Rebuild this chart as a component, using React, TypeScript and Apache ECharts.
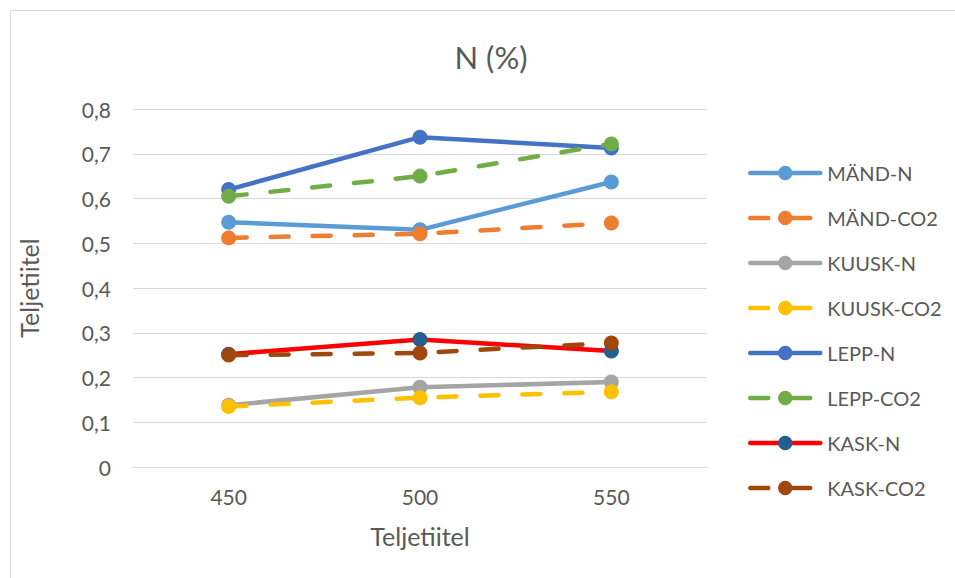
import React, { useEffect, useRef } from "react";
import * as echarts from "echarts";

const categories = ["450", "500", "550"];
const seriesNames = ["MÄND-N", "MÄND-CO2", "KUUSK-N", "KUUSK-CO2", "LEPP-N", "LEPP-CO2", "KASK-N", "KASK-CO2"];
const mandN = [0.547, 0.53, 0.637];
const mandCO2 = [0.512, 0.521, 0.545];
const kuuskN = [0.138, 0.178, 0.19];
const kuuskCO2 = [0.135, 0.155, 0.168];
const leppN = [0.62, 0.737, 0.713];
const leppCO2 = [0.605, 0.65, 0.722];
const kaskN = [0.252, 0.285, 0.259];
const kaskCO2 = [0.25, 0.255, 0.277];

const values = [mandN, mandCO2, kuuskN, kuuskCO2, leppN, leppCO2, kaskN, kaskCO2];
const lineColors = ["#5B9BD5", "#ED7D31", "#A5A5A5", "#FFC000", "#4472C4", "#70AD47", "#FF0000", "#9E480E"];
const markerColors = ["#5B9BD5", "#ED7D31", "#A5A5A5", "#FFC000", "#4472C4", "#70AD47", "#255E91", "#9E480E"];
const dashed = [false, true, false, true, false, true, false, true];

const FONT = "Lato, 'Noto Sans', sans-serif";
const TXT = "#595959";

export default function App() {
  const ref = useRef<HTMLDivElement>(null);
  useEffect(() => {
    const chart = echarts.init(ref.current!, null, { renderer: "svg" });
    chart.setOption({
      animation: false,
      backgroundColor: "#ffffff",
      title: {
        text: "N (%)",
        left: 486,
        textAlign: "center",
        top: 36,
        textStyle: { fontFamily: FONT, fontSize: 31, fontWeight: "normal", color: TXT },
      },
      graphic: [
        {
          type: "rect",
          shape: { x: 10.5, y: 10.5, width: 960, height: 600 },
          style: { fill: "none", stroke: "#d9d9d9", lineWidth: 1 },
        },
      ],
      legend: {
        orient: "vertical",
        left: 743,
        top: 158,
        itemWidth: 70,
        itemHeight: 18,
        itemGap: 25,
        lineStyle: { width: 4.5 },
        textStyle: { fontFamily: FONT, fontSize: 20, color: TXT, padding: [0, 0, 0, 2] },
        data: seriesNames,
      },
      grid: { left: 133, right: 248, top: 109, bottom: 111, containLabel: false },
      xAxis: {
        type: "category",
        data: categories,
        boundaryGap: true,
        name: "Teljetiitel",
        nameLocation: "middle",
        nameGap: 56,
        nameTextStyle: { fontFamily: FONT, fontSize: 25, color: TXT },
        axisLine: { show: true, lineStyle: { color: "#d9d9d9", width: 1 } },
        axisTick: { show: false },
        axisLabel: { fontFamily: FONT, fontSize: 21, color: TXT, margin: 19 },
      },
      yAxis: {
        type: "value",
        min: 0,
        max: 0.8,
        interval: 0.1,
        name: "Teljetiitel",
        nameLocation: "middle",
        nameRotate: 90,
        nameGap: 92,
        nameTextStyle: { fontFamily: FONT, fontSize: 25, color: TXT },
        axisLine: { show: false },
        axisTick: { show: false },
        splitLine: { lineStyle: { color: "#d9d9d9", width: 1 } },
        axisLabel: {
          fontFamily: FONT,
          fontSize: 21,
          color: TXT,
          margin: 22,
          formatter: (v: number) => (Math.round(v * 10) / 10).toString().replace(".", ","),
        },
      },
      series: seriesNames.map((name, i) => ({
        name,
        type: "line",
        data: values[i],
        symbol: "circle",
        symbolSize: 15,
        lineStyle: {
          color: lineColors[i],
          width: 4.5,
          type: dashed[i] ? [18, 24] : "solid",
          cap: "round",
        },
        itemStyle: { color: markerColors[i], borderWidth: 0 },
        color: markerColors[i],
      })),
    });
    return () => chart.dispose();
  }, []);
  return (
    <div
      ref={ref}
      style={{ position: "absolute", left: 0, top: 0, width: 955, height: 578 }}
    />
  );
}
